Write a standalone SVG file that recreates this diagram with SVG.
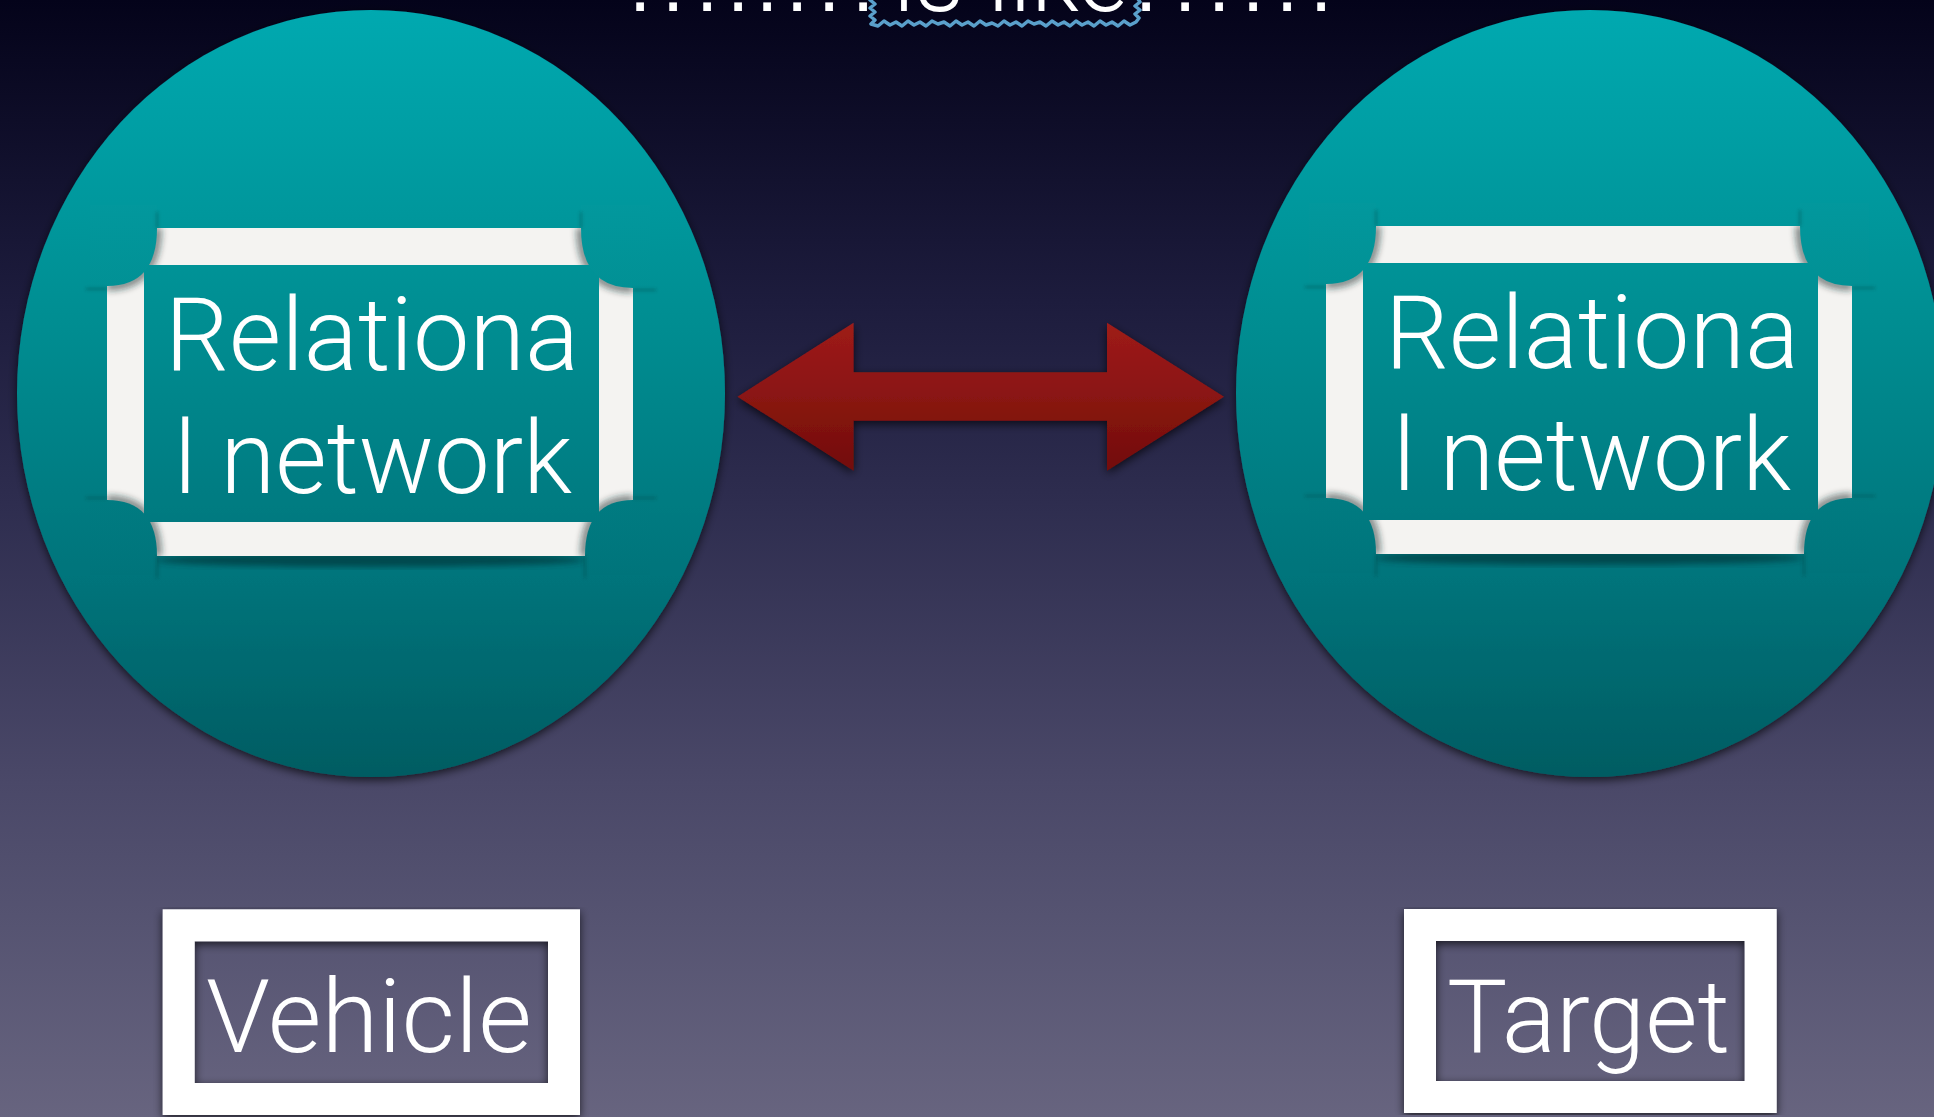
<svg xmlns="http://www.w3.org/2000/svg" width="1934" height="1117" viewBox="0 0 1934 1117">
<defs>
<linearGradient id="bg" x1="0" y1="0" x2="0" y2="1">
<stop offset="0" stop-color="#04031a"/>
<stop offset="0.27" stop-color="#1d1c3d"/>
<stop offset="0.45" stop-color="#2e2d4f"/>
<stop offset="0.7" stop-color="#4a4868"/>
<stop offset="0.82" stop-color="#555371"/>
<stop offset="1" stop-color="#67647f"/>
</linearGradient>
<linearGradient id="teal" gradientUnits="userSpaceOnUse" x1="0" y1="10" x2="0" y2="777">
<stop offset="0" stop-color="#04a9b0"/>
<stop offset="0.4" stop-color="#018e92"/>
<stop offset="0.75" stop-color="#00737a"/>
<stop offset="1" stop-color="#005c62"/>
</linearGradient>
<linearGradient id="red" x1="0" y1="0" x2="0" y2="1">
<stop offset="0" stop-color="#9e1b1a"/>
<stop offset="0.5" stop-color="#8a1512"/>
<stop offset="1" stop-color="#720d07"/>
</linearGradient>
<filter id="shadow" x="-10%" y="-10%" width="120%" height="120%">
<feDropShadow dx="0" dy="3" stdDeviation="5" flood-color="#000" flood-opacity="0.7"/>
</filter>
<filter id="blur3" x="-20%" y="-20%" width="140%" height="140%">
<feGaussianBlur stdDeviation="3"/>
</filter>
<filter id="blur1" x="-50%" y="-50%" width="200%" height="200%">
<feGaussianBlur stdDeviation="1.5"/>
</filter>
<clipPath id="ringL">
<path clip-rule="evenodd" d="M107 228 H633 V556 H107 Z M144 265 V522 H599 V265 Z"/>
</clipPath>
</defs>
<style>
.lbl{font-family:Roboto,"Liberation Sans",sans-serif;font-weight:300;fill:#ffffff;font-size:102px}
.dots{font-family:"Liberation Sans",Arial,sans-serif;fill:#ffffff;font-size:80px}
.frame{fill:#f4f3f1;fill-rule:evenodd}
.curl{fill:url(#teal)}
.cshadow{fill:none;stroke:#1a2c2c;stroke-width:10;opacity:0.5}
.tail{fill:none;stroke:#00363a;stroke-width:2.5;opacity:0.3}
.box{fill:none;stroke:#ffffff;stroke-width:32}
</style>
<rect x="0" y="0" width="1934" height="1117" fill="url(#bg)"/>

<g id="title">
<text class="dots" y="11" text-anchor="middle" x="640 673 707 738 767 797 829 863">........</text>
<text class="lbl" font-size="100" x="893" y="11" textLength="235" lengthAdjust="spacingAndGlyphs">is like</text>
<text class="dots" y="11" text-anchor="middle" x="1146 1185 1219 1253 1287 1321">......</text>
<path d="M873 -4 L870 0 L875 4 L870 8 L875 12 L870 16 L875 20 L871 24 L878 26 L884 21 L890 25 L896 22 L902 26 L908 21 L914 25 L920 22 L926 26 L932 21 L938 24 L944 22 L950 26 L956 21 L962 25 L968 22 L974 26 L980 21 L986 25 L992 23 L998 26 L1004 21 L1010 25 L1016 22 L1022 26 L1028 21 L1034 24 L1040 22 L1046 26 L1052 21 L1058 25 L1064 22 L1070 26 L1076 21 L1082 25 L1088 22 L1094 26 L1100 21 L1106 25 L1112 22 L1118 26 L1124 21 L1130 25 L1136 22 L1139 18 L1135 14 L1140 10 L1135 6 L1140 2 L1136 -4" fill="none" stroke="#5aa0cb" stroke-width="3.5" stroke-linejoin="round"/>
</g>

<g id="node-left">
<ellipse cx="371" cy="393.5" rx="354" ry="383.5" fill="url(#teal)" filter="url(#shadow)"/>
<ellipse cx="370" cy="560" rx="215" ry="7" fill="#002a2e" opacity="0.6" filter="url(#blur3)"/>
<path class="frame" d="M107 228 H633 V556 H107 Z M144 265 V522 H599 V265 Z"/>
<g clip-path="url(#ringL)" filter="url(#blur3)">
<path class="cshadow" d="M157 228 Q157 286 107 286"/>
<path class="cshadow" d="M581 228 Q581 288 633 288"/>
<path class="cshadow" d="M107 500 Q157 500 157 556"/>
<path class="cshadow" d="M633 500 Q585 500 585 556"/>
</g>
<path class="curl" d="M157 205 V228 Q157 286 107 286 H90 V205 Z"/>
<path class="curl" d="M581 205 V228 Q581 288 633 288 H650 V205 Z"/>
<path class="curl" d="M90 500 H107 Q157 500 157 556 V575 H90 Z"/>
<path class="curl" d="M650 500 H633 Q585 500 585 556 V575 H650 Z"/>
<g filter="url(#blur1)">
<path class="tail" d="M157 212 V228 M86 289 H107 M581 212 V228 M633 290 H656 M86 498 H107 M157 556 V578 M633 498 H656 M585 556 V578"/>
</g>
<text class="lbl" x="165" y="370" textLength="414" lengthAdjust="spacingAndGlyphs">Relationa</text>
<text class="lbl" x="174" y="493" textLength="398" lengthAdjust="spacingAndGlyphs">l network</text>
</g>

<g id="node-right">
<ellipse cx="1590" cy="393.5" rx="354" ry="383.5" fill="url(#teal)" filter="url(#shadow)"/>
<g transform="translate(1219,-2)">
<ellipse cx="370" cy="560" rx="215" ry="7" fill="#002a2e" opacity="0.6" filter="url(#blur3)"/>
<path class="frame" d="M107 228 H633 V556 H107 Z M144 265 V522 H599 V265 Z"/>
<g clip-path="url(#ringL)" filter="url(#blur3)">
<path class="cshadow" d="M157 228 Q157 286 107 286"/>
<path class="cshadow" d="M581 228 Q581 288 633 288"/>
<path class="cshadow" d="M107 500 Q157 500 157 556"/>
<path class="cshadow" d="M633 500 Q585 500 585 556"/>
</g>
<path class="curl" d="M157 205 V228 Q157 286 107 286 H90 V205 Z"/>
<path class="curl" d="M581 205 V228 Q581 288 633 288 H650 V205 Z"/>
<path class="curl" d="M90 500 H107 Q157 500 157 556 V575 H90 Z"/>
<path class="curl" d="M650 500 H633 Q585 500 585 556 V575 H650 Z"/>
<g filter="url(#blur1)">
<path class="tail" d="M157 212 V228 M86 289 H107 M581 212 V228 M633 290 H656 M86 498 H107 M157 556 V578 M633 498 H656 M585 556 V578"/>
</g>
<text class="lbl" x="166" y="370" textLength="414" lengthAdjust="spacingAndGlyphs">Relationa</text>
<text class="lbl" x="174" y="492" textLength="398" lengthAdjust="spacingAndGlyphs">l network</text>
</g>
</g>

<g id="node-vehicle">
<rect class="box" x="178.7" y="925.3" width="385.3" height="173.7" filter="url(#shadow)"/>
<text class="lbl" x="206" y="1052" textLength="326" lengthAdjust="spacingAndGlyphs">Vehicle</text>
</g>

<g id="node-target">
<rect class="box" x="1420" y="925" width="340.7" height="172" filter="url(#shadow)"/>
<text class="lbl" x="1447" y="1052" textLength="283" lengthAdjust="spacingAndGlyphs">Target</text>
</g>

<g id="connectors">
<polygon points="737.5,396.7 853.6,322.7 853.6,372.3 1107,372.3 1107,322.7 1224,396.7 1107,470.7 1107,420.7 853.6,420.7 853.6,470.7" fill="url(#red)" filter="url(#shadow)"/>
</g>
</svg>
